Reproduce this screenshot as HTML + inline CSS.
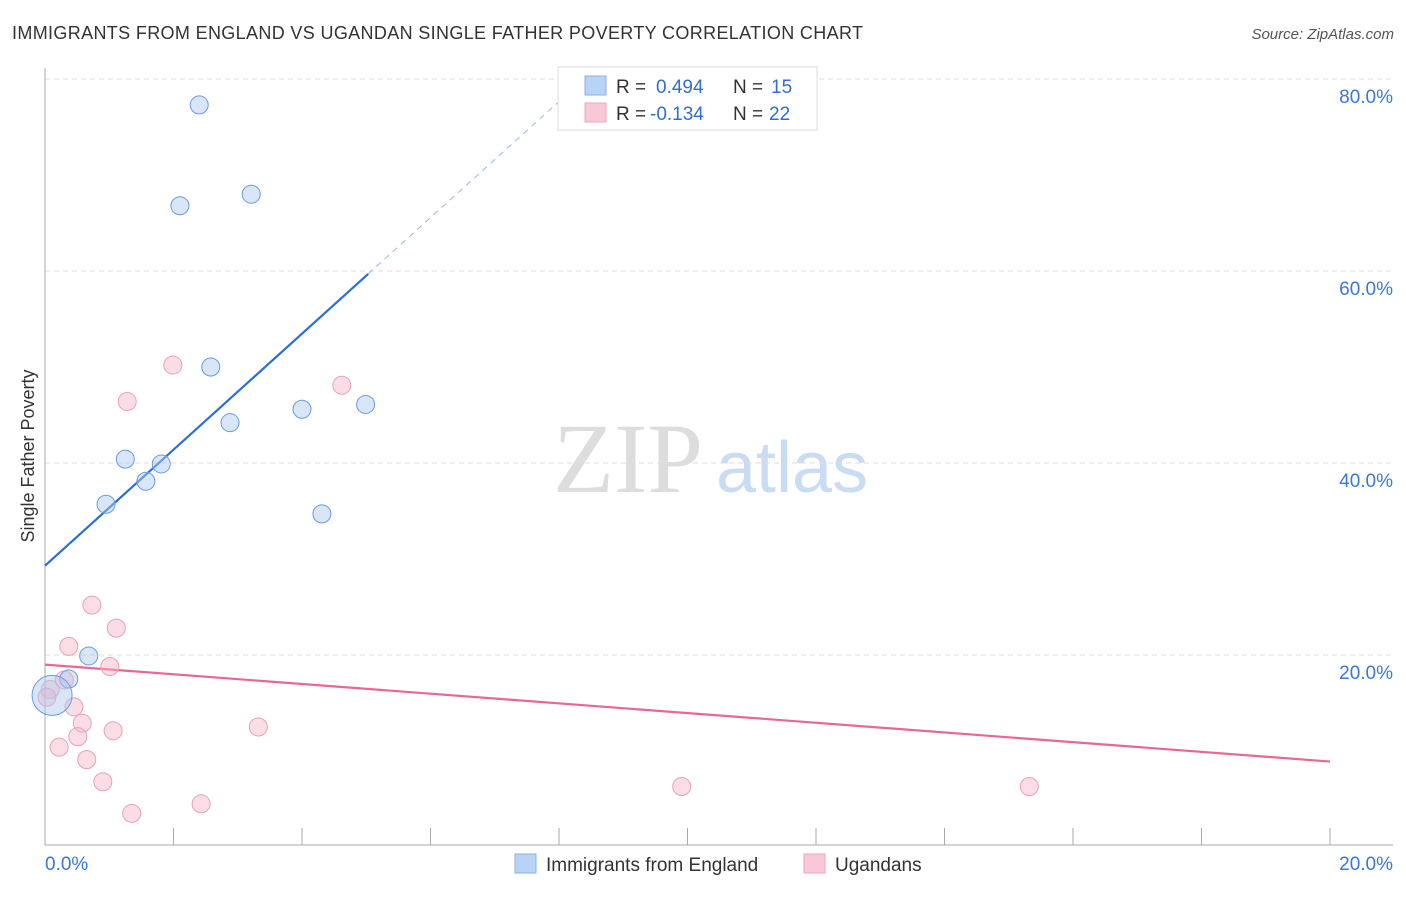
<!DOCTYPE html>
<html><head><meta charset="utf-8"><style>
body{margin:0;background:#fff;font-family:"Liberation Sans",sans-serif}
</style></head><body>
<svg id="c" width="1406" height="892" font-family="Liberation Sans, sans-serif">
<text x="12" y="39" font-size="18" fill="#333" textLength="851">IMMIGRANTS FROM ENGLAND VS UGANDAN SINGLE FATHER POVERTY CORRELATION CHART</text>
<text x="1394" y="39" font-size="15" fill="#555" font-style="italic" text-anchor="end">Source: ZipAtlas.com</text>
<text x="0" y="0" transform="translate(34,456) rotate(-90)" font-size="18" fill="#333" text-anchor="middle">Single Father Poverty</text>
<text x="553" y="492" font-size="100" fill="#ddd" style="font-family:'Liberation Serif',serif">ZIP</text>
<text x="716" y="492" font-size="72" fill="#c9dcf3">atlas</text>
<g id="grid"></g><g id="axes"></g><g id="lines"></g><g id="pts"></g>
<g>
<rect x="558" y="67" width="259" height="63" fill="#fff" stroke="#ddd"/>
<rect x="585" y="76" width="21" height="19" fill="#b8d3f5" stroke="#8ab0e3"/>
<rect x="585" y="103" width="21" height="19" fill="#f9c8d6" stroke="#eea5bb"/>
<text x="616" y="93" font-size="19" fill="#333">R = </text>
<text x="656" y="93" font-size="19" fill="#2f6fcf">0.494</text>
<text x="733" y="93" font-size="19" fill="#333">N = </text>
<text x="771" y="93" font-size="19" fill="#2f6fcf">15</text>
<text x="616" y="120" font-size="19" fill="#333">R = </text>
<text x="650" y="120" font-size="19" fill="#2f6fcf">-0.134</text>
<text x="733" y="120" font-size="19" fill="#333">N = </text>
<text x="769" y="120" font-size="19" fill="#2f6fcf">22</text>
</g>
<g>
<rect x="515" y="854" width="21" height="19" fill="#b8d3f5" stroke="#8ab0e3"/>
<text x="546" y="871" font-size="19" fill="#333">Immigrants from England</text>
<rect x="804" y="854" width="21" height="19" fill="#f9c8d6" stroke="#eea5bb"/>
<text x="835" y="871" font-size="19" fill="#333">Ugandans</text>
</g>
</svg>
<script>
const yTicks=[20,40,60,80];
const blueX=[2.40,2.10,3.21,2.58,2.88,4.00,4.99,1.25,1.81,1.57,0.95,4.31,0.68,0.37,0.11];
const blueY=[77.3,66.8,68.0,50.0,44.2,45.6,46.1,40.4,39.9,38.1,35.7,34.7,19.9,17.5,15.8];
const pinkX=[1.99,1.28,4.62,0.73,1.11,0.37,1.01,0.30,0.08,0.03,0.45,0.58,0.51,1.06,3.32,0.22,0.65,0.90,1.35,2.43,9.91,15.32];
const pinkY=[50.2,46.4,48.1,25.2,22.8,20.9,18.8,17.4,16.4,15.6,14.6,12.9,11.5,12.1,12.5,10.4,9.1,6.8,3.5,4.5,6.3,6.3];
const blueTrend=[29.3,59.7];const blueTrendX=[0,5.03];
const pinkTrend=[19.0,8.9];const pinkTrendX=[0,20];
const NS='http://www.w3.org/2000/svg';
const X=v=>45+v*64.25, Y=v=>847-v*9.6;
function mk(t,a,p){const e=document.createElementNS(NS,t);for(const k in a)e.setAttribute(k,a[k]);document.getElementById(p).appendChild(e);return e;}
yTicks.forEach(t=>{
const l=mk('line',{x1:45,x2:1393,y1:Y(t),y2:Y(t),stroke:'#ddd','stroke-dasharray':'5,4'},'grid');


const tx=mk('text',{x:1393,y:Y(t)+24,'font-size':19,fill:'#3a78d4','text-anchor':'end'},'grid');tx.textContent=t.toFixed(1)+'%';


});
mk('line',{x1:45,x2:45,y1:68,y2:845,stroke:'#aaa'},'axes');
mk('line',{x1:45,x2:1393,y1:845,y2:845,stroke:'#aaa'},'axes');
for(let i=0;i<=10;i++){mk('line',{x1:X(i*2),x2:X(i*2),y1:828,y2:845,stroke:'#aaa'},'axes');}
let a=mk('text',{x:45,y:870,'font-size':19,fill:'#3a78d4'},'axes');a.textContent='0.0%';


a=mk('text',{x:1393,y:870,'font-size':19,fill:'#3a78d4','text-anchor':'end'},'axes');a.textContent='20.0%';


const sl=(blueTrend[1]-blueTrend[0])/(blueTrendX[1]-blueTrendX[0]);
const ext=(80.5-blueTrend[0])/sl;
let d=mk('line',{x1:X(blueTrendX[1]),y1:Y(blueTrend[1]),x2:X(ext),y2:Y(blueTrend[0]+sl*ext),stroke:'#9bb8e3','stroke-dasharray':'6,5'},'lines');


d=mk('line',{x1:X(blueTrendX[0]),y1:Y(blueTrend[0]),x2:X(blueTrendX[1]),y2:Y(blueTrend[1]),stroke:'#2a6fd6','stroke-width':2.2},'lines');


d=mk('line',{x1:X(pinkTrendX[0]),y1:Y(pinkTrend[0]),x2:X(pinkTrendX[1]),y2:Y(pinkTrend[1]),stroke:'#e8688f','stroke-width':2.2},'lines');


pinkX.forEach((v,i)=>{const c=mk('circle',{cx:X(v),cy:Y(pinkY[i]),r:9,fill:'rgba(246,180,200,0.45)',stroke:'#eaa0b8'},'pts');

});
blueX.forEach((v,i)=>{const c=mk('circle',{cx:X(v),cy:Y(blueY[i]),r:i==14?20:9,fill:'rgba(170,200,240,0.45)',stroke:'#6a9be0'},'pts');

});
</script>
</body></html>
